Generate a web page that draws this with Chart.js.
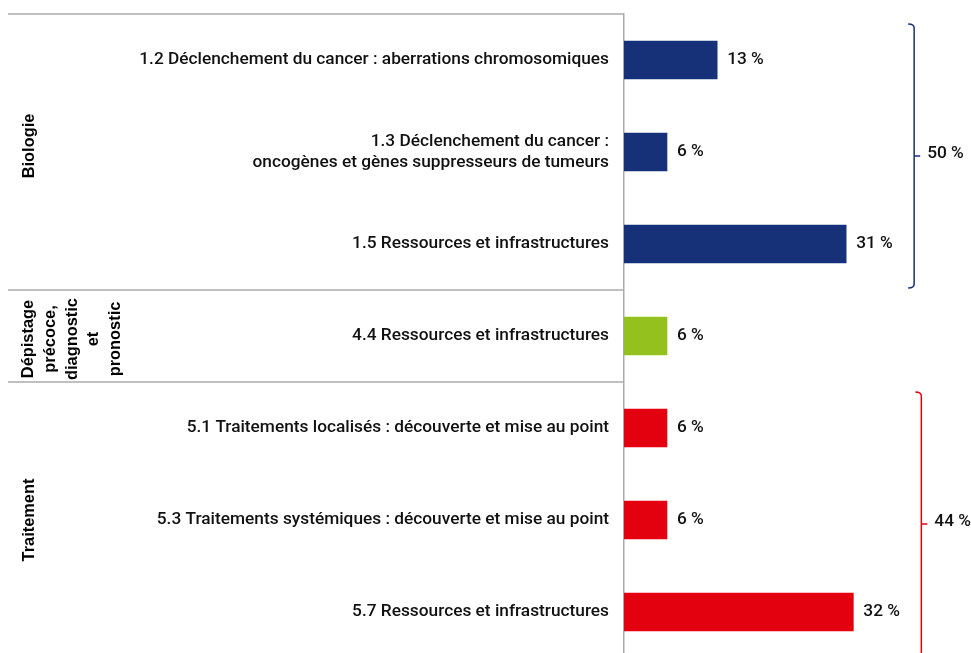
<!DOCTYPE html>
<html lang="fr">
  <head>
    <meta charset="UTF-8" />
    <title>Répartition par thème</title>
    <style>
      html, body { margin: 0; padding: 0; overflow: hidden; background: #fff; }
    </style>
  </head>
  <body>
    <canvas id="chart" width="971" height="660"></canvas>
    <script src="https://cdn.jsdelivr.net/npm/chart.js@4/dist/chart.umd.min.js"></script>
    <script>
      const categories = [
        "1.2 Déclenchement du cancer : aberrations chromosomiques",
        ["1.3 Déclenchement du cancer :", "oncogènes et gènes suppresseurs de tumeurs"],
        "1.5 Ressources et infrastructures",
        "4.4 Ressources et infrastructures",
        "5.1 Traitements localisés : découverte et mise au point",
        "5.3 Traitements systémiques : découverte et mise au point",
        "5.7 Ressources et infrastructures",
      ];
      const values = [13, 6, 31, 6, 6, 6, 32];
      const groupNames = [
        ["Biologie"],
        ["Dépistage", "précoce,", "diagnostic", "et", "pronostic"],
        ["Traitement"],
      ];
      const groupStart = [0, 3, 4];
      const groupEnd = [2, 3, 6];
      const groupTotals = ["50 %", null, "44 %"];
      const groupColors = ["#173179", "#95c11f", "#e3000f"];

      const barColors = values.map(function (v, i) {
        const g = groupStart.findIndex(function (s, k) { return i >= s && i <= groupEnd[k]; });
        return groupColors[g];
      });

      const FONT = "Roboto";
      const lineColor = "#ababab";

      const decorations = {
        id: "decorations",
        afterDatasetsDraw(chart) {
          const ctx = chart.ctx;
          const y = chart.scales.y;
          const x = chart.scales.x;
          const area = chart.chartArea;
          const meta = chart.getDatasetMeta(0);

          ctx.save();
          // value labels
          ctx.font = "500 17.3px " + FONT;
          ctx.fillStyle = "#111";
          ctx.textAlign = "left";
          ctx.textBaseline = "middle";
          meta.data.forEach(function (bar, i) {
            ctx.fillText(values[i] + " %", bar.x + 10, bar.y);
          });

          // separators and group labels
          ctx.strokeStyle = lineColor;
          ctx.lineWidth = 1.5;
          groupStart.forEach(function (s, g) {
            const top = s === 0 ? area.top : (y.getPixelForValue(s - 1) + y.getPixelForValue(s)) / 2;
            ctx.beginPath();
            ctx.moveTo(8, top);
            ctx.lineTo(area.left, top);
            ctx.stroke();
          });

          ctx.font = "bold 16.4px 'Liberation Sans', Arial, sans-serif";
          ctx.fillStyle = "#000";
          ctx.textAlign = "center";
          const shift = [-6, 3, 0];
          groupNames.forEach(function (lines, g) {
            const top = groupStart[g] === 0 ? area.top : (y.getPixelForValue(groupStart[g] - 1) + y.getPixelForValue(groupStart[g])) / 2;
            const bottom = groupEnd[g] === categories.length - 1 ? area.bottom : (y.getPixelForValue(groupEnd[g]) + y.getPixelForValue(groupEnd[g] + 1)) / 2;
            const cy = (top + bottom) / 2 + shift[g];
            const lh = 21.8;
            const cx = lines.length > 1 ? 72 : 29;
            ctx.save();
            ctx.translate(cx, cy);
            ctx.rotate(-Math.PI / 2);
            lines.forEach(function (t, k) {
              ctx.fillText(t, 0, (k - (lines.length - 1) / 2) * lh);
            });
            ctx.restore();
          });

          // brackets
          groupTotals.forEach(function (total, g) {
            if (!total) return;
            let vmax = 0;
            for (let i = groupStart[g]; i <= groupEnd[g]; i++) vmax = Math.max(vmax, values[i]);
            const bx = x.getPixelForValue(vmax) + 68;
            const t = y.getPixelForValue(groupStart[g]) - 36;
            const b = y.getPixelForValue(groupEnd[g]) + 44;
            const m = (t + b) / 2;
            ctx.strokeStyle = groupColors[g];
            ctx.lineWidth = 1.5;
            ctx.beginPath();
            ctx.moveTo(bx - 6, t);
            ctx.quadraticCurveTo(bx, t, bx, t + 4);
            ctx.lineTo(bx, b - 4);
            ctx.quadraticCurveTo(bx, b, bx - 6, b);
            ctx.moveTo(bx, m);
            ctx.lineTo(bx + 6, m);
            ctx.stroke();
            ctx.font = "500 17.3px " + FONT;
            ctx.fillStyle = "#111";
            ctx.textAlign = "left";
            ctx.textBaseline = "middle";
            ctx.fillText(total, bx + 13, m - 2);
          });
          ctx.restore();
        },
      };

      new Chart(document.getElementById("chart"), {
        type: "bar",
        data: {
          labels: categories,
          datasets: [
            {
              data: values,
              backgroundColor: barColors,
              barThickness: 38,
            },
          ],
        },
        options: {
          indexAxis: "y",
          responsive: false,
          animation: false,
          layout: { padding: { top: 14, bottom: 2, left: 0, right: 3 } },
          plugins: { legend: { display: false }, tooltip: { enabled: false } },
          scales: {
            x: { display: false, min: 0, max: 48 },
            y: {
              afterFit(scale) {
                scale.width = 624;
                scale.paddingTop = 0;
                scale.paddingBottom = 0;
              },
              grid: { display: false, drawTicks: false },
              border: { display: true, color: lineColor, width: 1.5 },
              ticks: {
                autoSkip: false,
                padding: 15,
                color: "#111",
                font: { family: FONT, size: 17.3, weight: "500", lineHeight: 1.22 },
              },
            },
          },
        },
        plugins: [decorations],
      });
    </script>
  </body>
</html>
